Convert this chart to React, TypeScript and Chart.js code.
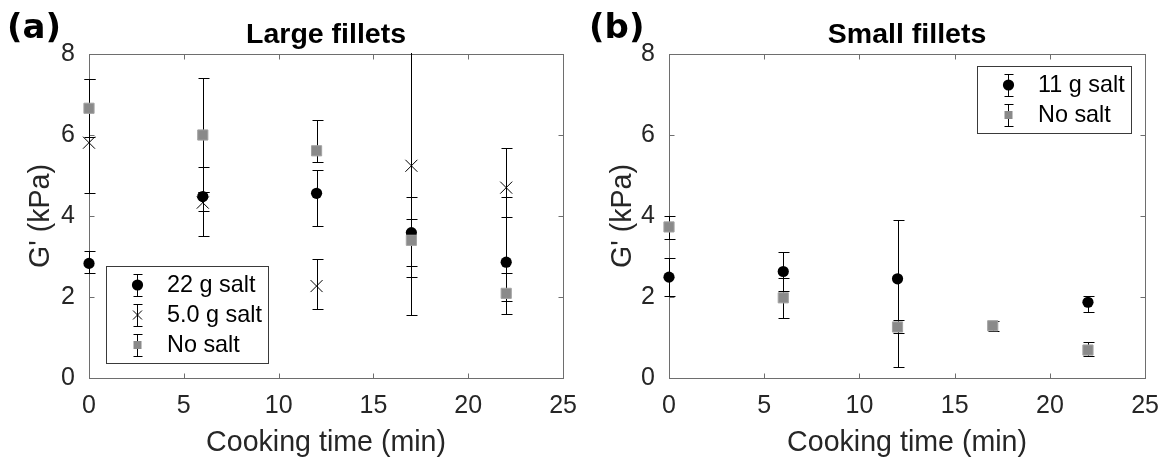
import React, { useEffect, useRef } from 'react';
import { Chart, registerables } from 'chart.js';

Chart.register(...registerables);

// ---------- data ----------
const timesA = [0, 6, 12, 17, 22];
const salt22 = [2.83, 4.48, 4.56, 3.59, 2.86];
const salt22Low = [2.6, 4.12, 3.75, 2.76, 1.9];
const salt22High = [3.13, 4.59, 5.13, 4.47, 4.47];
const salt5 = [5.81, 4.33, 2.27, 5.24, 4.7];
const salt5Low = [4.58, 3.51, 1.71, 1.55, 3.98];
const salt5High = [7.38, 5.21, 2.95, 8.93, 5.69];
const noSaltA = [6.66, 6.0, 5.61, 3.4, 2.09];
const noSaltALow = [5.94, 4.59, 5.34, 2.5, 1.57];
const noSaltAHigh = [7.38, 7.4, 6.38, 3.92, 2.6];

const timesB = [0, 6, 12, 17, 22];
const salt11 = [2.49, 2.63, 2.45, null, 1.87];
const salt11Low = [2.03, 2.16, 0.27, null, 1.62];
const salt11High = [2.96, 3.12, 3.89, null, 2.02];
const noSaltB = [3.73, 1.98, 1.26, 1.29, 0.69];
const noSaltBLow = [3.42, 1.47, 1.11, 1.17, 0.54];
const noSaltBHigh = [3.99, 2.46, 1.42, 1.4, 0.89];

const xTicks = [0, 5, 10, 15, 20, 25];
const yTicks = [0, 2, 4, 6, 8];

const labelsA = ['22 g salt', '5.0 g salt', 'No salt'];
const labelsB = ['11 g salt', 'No salt'];
const titleA = 'Large fillets';
const titleB = 'Small fillets';
const xTitle = 'Cooking time (min)';
const yTitle = "G' (kPa)";

// ---------- styling ----------
const FONT = "'Liberation Sans', Arial, Helvetica, sans-serif";
const TEXT = '#262626';
const GRAY = '#8a8a8a';
const GRAY_EDGE = '#a3a3a3';

type Pt = { x: number; y: number; lo: number; hi: number };

function pts(times: number[], vals: (number | null)[], lo: (number | null)[], hi: (number | null)[]): Pt[] {
  const out: Pt[] = [];
  times.forEach((t, i) => {
    const v = vals[i];
    if (v == null) return;
    out.push({ x: t, y: v, lo: lo[i] as number, hi: hi[i] as number });
  });
  return out;
}

const styles: Record<string, any> = {
  circle: { pointStyle: 'circle', pointRadius: 5.6, backgroundColor: '#000', borderColor: '#000', borderWidth: 0 },
  cross: { pointStyle: 'crossRot', pointRadius: 8.5, backgroundColor: '#000', borderColor: '#000', borderWidth: 1 },
  square: { pointStyle: 'rect', pointRadius: 7.2, backgroundColor: GRAY, borderColor: GRAY_EDGE, borderWidth: 1 },
};

const errorBarPlugin = {
  id: 'errorBars',
  beforeDatasetsDraw(chart: any) {
    const { ctx, chartArea, scales } = chart;
    const xs = scales.x;
    const ys = scales.y;
    ctx.save();
    ctx.beginPath();
    ctx.rect(chartArea.left - 10, chartArea.top - 1, chartArea.right - chartArea.left + 20, chartArea.bottom - chartArea.top + 2);
    ctx.clip();
    ctx.strokeStyle = '#000';
    ctx.lineWidth = 1;
    const order = chart.data.datasets.map((_: any, i: number) => i).reverse();
    order.forEach((di: number) => {
      const ds = chart.data.datasets[di];
      (ds.data as Pt[]).forEach((p) => {
        const px = Math.round(xs.getPixelForValue(p.x)) + 0.5;
        const yl = Math.round(ys.getPixelForValue(p.lo)) + 0.5;
        const yh = Math.round(ys.getPixelForValue(p.hi)) + 0.5;
        ctx.beginPath();
        ctx.moveTo(px, yl);
        ctx.lineTo(px, yh);
        ctx.moveTo(px - 5, yl);
        ctx.lineTo(px + 6, yl);
        ctx.moveTo(px - 5, yh);
        ctx.lineTo(px + 6, yh);
        ctx.stroke();
      });
    });
    ctx.restore();
  },
};

const framePlugin = {
  id: 'frame',
  beforeDatasetsDraw(chart: any) {
    const { ctx, chartArea, scales } = chart;
    const l = Math.round(chartArea.left) + 0.5;
    const r = Math.round(chartArea.right) + 0.5;
    const t = Math.round(chartArea.top) + 0.5;
    const b = Math.round(chartArea.bottom) + 0.5;
    ctx.save();
    ctx.strokeStyle = '#6e6e6e';
    ctx.lineWidth = 1;
    ctx.strokeRect(l, t, r - l, b - t);
    ctx.beginPath();
    scales.x.ticks.forEach((tk: any) => {
      const px = Math.round(scales.x.getPixelForValue(tk.value)) + 0.5;
      ctx.moveTo(px, b);
      ctx.lineTo(px, b - 5);
      ctx.moveTo(px, t);
      ctx.lineTo(px, t + 5);
    });
    scales.y.ticks.forEach((tk: any) => {
      const py = Math.round(scales.y.getPixelForValue(tk.value)) + 0.5;
      ctx.moveTo(l, py);
      ctx.lineTo(l + 5, py);
      ctx.moveTo(r, py);
      ctx.lineTo(r - 5, py);
    });
    ctx.stroke();
    ctx.restore();
  },
};

function drawMarker(ctx: CanvasRenderingContext2D, kind: string, x: number, y: number) {
  ctx.save();
  if (kind === 'circle') {
    ctx.fillStyle = '#000';
    ctx.beginPath();
    ctx.arc(x, y, 5.6, 0, Math.PI * 2);
    ctx.fill();
  } else if (kind === 'cross') {
    ctx.strokeStyle = '#000';
    ctx.lineWidth = 1;
    ctx.beginPath();
    ctx.moveTo(x - 4.5, y - 4.5);
    ctx.lineTo(x + 4.5, y + 4.5);
    ctx.moveTo(x - 4.5, y + 4.5);
    ctx.lineTo(x + 4.5, y - 4.5);
    ctx.stroke();
  } else {
    ctx.fillStyle = GRAY;
    ctx.fillRect(x - 4, y - 4, 8, 8);
  }
  ctx.restore();
}

const boxLegendPlugin = {
  id: 'boxLegend',
  afterDraw(chart: any, _args: any, opts: any) {
    const { ctx, chartArea } = chart;
    const rowH = 30;
    const textOff = 61;
    ctx.save();
    ctx.font = `23.4px ${FONT}`;
    const entries = chart.data.datasets.map((d: any) => ({ label: d.label, kind: d.markerKind }));
    const tw = Math.max(...entries.map((e: any) => ctx.measureText(e.label).width));
    const w = Math.round(textOff + tw + 6);
    const h = entries.length * rowH + 7;
    let x0: number;
    let y0: number;
    if (opts.corner === 'bl') {
      x0 = Math.round(chartArea.left + 17);
      y0 = Math.round(chartArea.bottom - 15 - h);
    } else {
      x0 = Math.round(chartArea.right - 14 - w);
      y0 = Math.round(chartArea.top + 12);
    }
    ctx.fillStyle = '#fff';
    ctx.fillRect(x0, y0, w, h);
    ctx.strokeStyle = '#3a3a3a';
    ctx.lineWidth = 1;
    ctx.strokeRect(x0 + 0.5, y0 + 0.5, w, h);
    entries.forEach((e: any, i: number) => {
      const cy = y0 + 4 + rowH * i + rowH / 2;
      const ix = x0 + 31.5;
      ctx.strokeStyle = '#000';
      ctx.beginPath();
      ctx.moveTo(ix, cy - 11);
      ctx.lineTo(ix, cy + 11);
      ctx.moveTo(ix - 4, Math.round(cy - 11) + 0.5);
      ctx.lineTo(ix + 5, Math.round(cy - 11) + 0.5);
      ctx.moveTo(ix - 4, Math.round(cy + 11) + 0.5);
      ctx.lineTo(ix + 5, Math.round(cy + 11) + 0.5);
      ctx.stroke();
      drawMarker(ctx, e.kind, ix, cy);
      ctx.fillStyle = '#000';
      ctx.textBaseline = 'middle';
      ctx.textAlign = 'left';
      ctx.fillText(e.label, x0 + textOff, cy + 1);
    });
    ctx.restore();
  },
};

const panelLabelPlugin = {
  id: 'panelLabel',
  afterDraw(chart: any, _args: any, opts: any) {
    const { ctx, chartArea } = chart;
    ctx.save();
    ctx.font = `bold 34px 'DejaVu Sans', sans-serif`;
    ctx.fillStyle = '#000';
    ctx.textBaseline = 'alphabetic';
    ctx.textAlign = 'left';
    ctx.fillText(opts.text, 7, 38);
    ctx.font = `bold 28.5px ${FONT}`;
    ctx.textAlign = 'center';
    ctx.fillText(opts.title, (chartArea.left + chartArea.right) / 2, 43);
    ctx.restore();
  },
};

function makeConfig(p: {
  title: string;
  label: string;
  datasets: any[];
  corner: string;
  yWidth: number;
  rightPad: number;
}) {
  return {
    type: 'scatter' as const,
    data: { datasets: p.datasets },
    plugins: [framePlugin, errorBarPlugin, boxLegendPlugin, panelLabelPlugin],
    options: {
      responsive: false,
      animation: false as const,
      events: [] as any[],
      clip: false as const,
      layout: { padding: { left: 0, right: p.rightPad, top: 54, bottom: 0 } },
      plugins: {
        legend: { display: false },
        tooltip: { enabled: false },
        title: { display: false },
        boxLegend: { corner: p.corner },
        panelLabel: { text: p.label, title: p.title },
      },
      scales: {
        x: {
          type: 'linear' as const,
          min: 0,
          max: 25,
          afterBuildTicks: (s: any) => {
            s.ticks = xTicks.map((v) => ({ value: v }));
          },
          afterFit: (s: any) => {
            s.height = 82;
          },
          grid: { display: false },
          border: { display: false },
          ticks: { color: TEXT, font: { family: FONT, size: 25 }, padding: 5, maxRotation: 0 },
          title: {
            display: true,
            text: xTitle,
            color: TEXT,
            font: { family: FONT, size: 28.6, lineHeight: 1.2 },
            padding: { top: 3, bottom: 0 },
          },
        },
        y: {
          type: 'linear' as const,
          min: 0,
          max: 8,
          afterBuildTicks: (s: any) => {
            s.ticks = yTicks.map((v) => ({ value: v }));
          },
          afterFit: (s: any) => {
            s.width = p.yWidth;
          },
          grid: { display: false },
          border: { display: false },
          ticks: { color: TEXT, font: { family: FONT, size: 25 }, padding: 6 },
          title: {
            display: true,
            text: yTitle,
            color: TEXT,
            font: { family: FONT, size: 28.6, lineHeight: 1.2 },
            padding: { top: 24, bottom: 0 },
          },
        },
      },
    },
  };
}

function Panel(props: { config: any; left: number }) {
  const ref = useRef<HTMLCanvasElement | null>(null);
  useEffect(() => {
    if (!ref.current) return;
    const chart = new Chart(ref.current, props.config);
    return () => chart.destroy();
  }, []);
  return (
    <canvas
      ref={ref}
      width={582}
      height={460}
      style={{ position: 'absolute', left: props.left, top: 0, width: 582, height: 460 }}
    />
  );
}

export default function App() {
  const dsA = [
    { label: labelsA[0], markerKind: 'circle', order: 2, clip: false, data: pts(timesA, salt22, salt22Low, salt22High), ...styles.circle },
    { label: labelsA[1], markerKind: 'cross', order: 1, clip: false, data: pts(timesA, salt5, salt5Low, salt5High), ...styles.cross },
    { label: labelsA[2], markerKind: 'square', order: 0, clip: false, data: pts(timesA, noSaltA, noSaltALow, noSaltAHigh), ...styles.square },
  ];
  const dsB = [
    { label: labelsB[0], markerKind: 'circle', order: 1, clip: false, data: pts(timesB, salt11, salt11Low, salt11High), ...styles.circle },
    { label: labelsB[1], markerKind: 'square', order: 0, clip: false, data: pts(timesB, noSaltB, noSaltBLow, noSaltBHigh), ...styles.square },
  ];
  const cfgA = makeConfig({ title: titleA, label: '(a)', datasets: dsA, corner: 'bl', yWidth: 89, rightPad: 15 });
  const cfgB = makeConfig({ title: titleB, label: '(b)', datasets: dsB, corner: 'tr', yWidth: 87, rightPad: 17 });
  return (
    <div style={{ position: 'fixed', left: 0, top: 0, width: 1164, height: 460, background: '#fff', overflow: 'hidden' }}>
      <Panel config={cfgA} left={0} />
      <Panel config={cfgB} left={582} />
    </div>
  );
}
